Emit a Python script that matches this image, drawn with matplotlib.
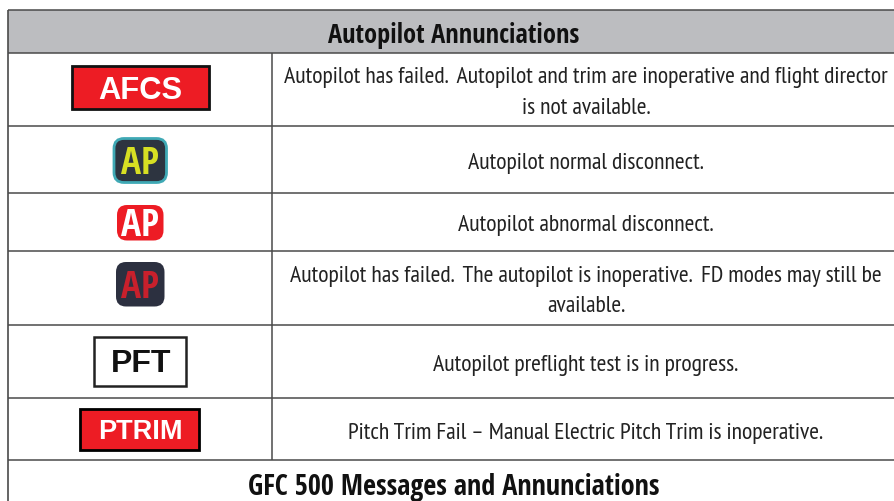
import matplotlib
matplotlib.use("Agg")
import matplotlib.pyplot as plt
from matplotlib.patches import Rectangle, FancyBboxPatch

title = "Autopilot Annunciations"
footer = "GFC 500 Messages and Annunciations"
descriptions = [
    "Autopilot has failed.  Autopilot and trim are inoperative and flight director\nis not available.",
    "Autopilot normal disconnect.",
    "Autopilot abnormal disconnect.",
    "Autopilot has failed.  The autopilot is inoperative.  FD modes may still be\navailable.",
    "Autopilot preflight test is in progress.",
    "Pitch Trim Fail \u2013 Manual Electric Pitch Trim is inoperative.",
]
labels = ["AFCS", "AP", "AP", "AP", "PFT", "PTRIM"]

# layout in image pixels
row_edges = [53, 126, 193, 251, 325, 398, 460]
left, right, top, col_x = 8.5, 895, 10, 272
line_c = "#4a4a4a"
narrow = ["Open Sans Condensed", "Open Sans", "DejaVu Sans"]
body = ["PT Sans Narrow", "Open Sans", "DejaVu Sans"]
bold = ["Liberation Sans", "DejaVu Sans"]

fig = plt.figure(figsize=(8.95, 5.01), dpi=100)
ax = fig.add_axes([0, 0, 1, 1])
ax.set_xlim(0, 895)
ax.set_ylim(501, 0)
ax.axis("off")

ax.add_patch(Rectangle((left, top), right - left, row_edges[0] - top, fc="#bcbdc0", ec="none"))

# grid lines
for y in [top] + row_edges:
    ax.plot([left, right], [y, y], color=line_c, lw=1.1, solid_capstyle="butt")
ax.plot([left, left], [top, 501], color=line_c, lw=1.2, solid_capstyle="butt")
ax.plot([col_x, col_x], row_edges[0:1] + row_edges[-1:], color=line_c, lw=1.1, solid_capstyle="butt")

ax.text(454, 35, title, ha="center", va="center", family=narrow, weight="bold", fontsize=19, color="#111111")
ax.text(454, 488, footer, ha="center", va="center", family=narrow, weight="bold", fontsize=20.3, color="#111111")

centres = [(a + b) / 2 for a, b in zip(row_edges[:-1], row_edges[1:])]
for i, d in enumerate(descriptions):
    shift = 3.5 if "\n" in d else 4
    ax.text(586, centres[i] + shift, d, ha="center", va="center", family=body, fontsize=17.1,
            color="#222222", linespacing=1.6)


def box(x0, y0, x1, y1, fc, ec, lw):
    ax.add_patch(Rectangle((x0, y0), x1 - x0, y1 - y0, fc=fc, ec=ec, lw=lw, zorder=3))


def rounded(x0, y0, x1, y1, fc, ec, lw):
    ax.add_patch(FancyBboxPatch((x0 + 9, y0 + 9), x1 - x0 - 18, y1 - y0 - 18,
                                boxstyle="round,pad=9,rounding_size=10", fc=fc, ec=ec, lw=lw, zorder=3))


box(72, 66, 209, 108.5, "#ed1c24", "#111111", 2)
ax.text(140.5, 87, labels[0], ha="center", va="center_baseline", family=bold, weight="bold", fontsize=22.2,
        color="white", zorder=4)

rounded(114, 138.5, 166.5, 182.5, "#2d3440", "#3fa9b5", 2)
ax.text(140.5, 159.5, labels[1], ha="center", va="center_baseline", family=narrow, weight="bold", fontsize=27,
        color="#d7df23", zorder=4)

rounded(117, 205, 163.5, 240.5, "#ed1c24", "none", 0)
ax.text(140.5, 222, labels[2], ha="center", va="center_baseline", family=narrow, weight="bold", fontsize=27,
        color="white", zorder=4)

rounded(116, 262, 164.5, 306.5, "#2c3040", "none", 0)
ax.text(140.5, 283.5, labels[3], ha="center", va="center_baseline", family=narrow, weight="bold", fontsize=27,
        color="#c8202c", zorder=4)

box(94, 337, 186, 386, "white", "#222222", 1.8)
ax.text(141, 361, labels[4], ha="center", va="center_baseline", family=bold, weight="bold", fontsize=23,
        color="#111111", zorder=4)

box(80, 409, 199, 450, "#ed1c24", "#000000", 2)
ax.text(140, 429, labels[5], ha="center", va="center_baseline", family=bold, weight="bold", fontsize=19.5,
        color="white", zorder=4)

fig.savefig("out.png", dpi=100)
